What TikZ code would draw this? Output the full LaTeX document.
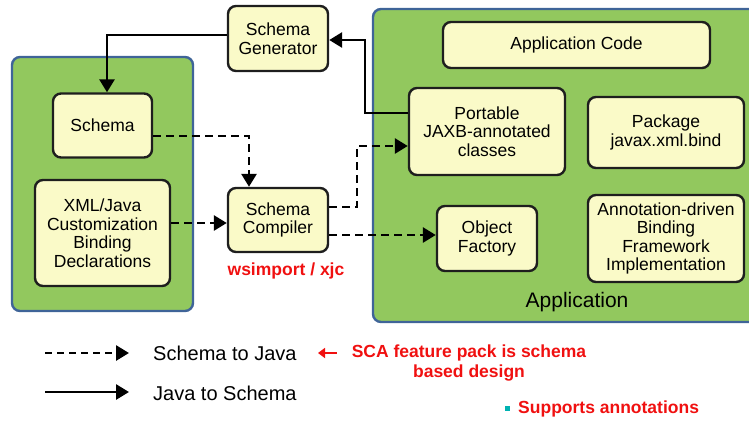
\documentclass[tikz,border=0pt]{standalone}
\usepackage{fontspec}
\setmainfont{Liberation Sans}
\usetikzlibrary{arrows.meta}
\definecolor{panelgreen}{HTML}{92C85E}
\definecolor{panelblue}{HTML}{3F6498}
\definecolor{boxfill}{HTML}{FAFAC8}
\definecolor{boxline}{HTML}{1E1E1E}
\definecolor{notered}{HTML}{F01010}
\tikzset{
  panel/.style={fill=panelgreen, draw=panelblue, line width=2.4pt, rounded corners=8pt},
  unit/.style={fill=boxfill, draw=boxline, line width=2.4pt, rounded corners=8pt,
    align=center, inner sep=0pt,
    font=\fontsize{17.5}{18.5}\selectfont},
  solidflow/.style={line width=2.8pt, -{Triangle[length=13pt,width=15pt]}},
  dashflow/.style={line width=2.8pt, dash pattern=on 8pt off 5pt, -{Triangle[length=13pt,width=15pt]}},
  legendtext/.style={anchor=west, inner sep=0pt, font=\fontsize{20}{22}\selectfont},
  note/.style={text=notered, font=\bfseries\fontsize{17.5}{20}\selectfont, inner sep=0pt, align=center},
}
\begin{document}
\begin{tikzpicture}[x=1pt, y=-1pt]
\useasboundingbox (0,0) rectangle (749,421);

% container panels
\draw[panel] (12,57) rectangle (193,311);
\draw[panel] (373,9) rectangle (762,322);
\node[anchor=center, inner sep=0pt, font=\fontsize{21}{24}\selectfont] (applabel) at (577,302) {Application};

% boxes
\node[unit, minimum width=100pt, minimum height=65pt] (gen) at (278,38.5) {Schema\\Generator};
\node[unit, minimum width=99pt, minimum height=64pt] (schema) at (102.5,125.5) {Schema};
\node[unit, minimum width=135pt, minimum height=106pt] (xml) at (102.5,233) {XML/Java\\Customization\\Binding\\Declarations};
\node[unit, minimum width=100pt, minimum height=64pt] (comp) at (278,220) {Schema\\Compiler};
\node[unit, minimum width=267pt, minimum height=46pt] (appcode) at (576.5,45) {Application Code};
\node[unit, minimum width=156pt, minimum height=87pt] (jaxb) at (487,131.5) {Portable\\JAXB-annotated\\classes};
\node[unit, minimum width=156pt, minimum height=71pt] (pkg) at (666,132.5) {Package\\javax.xml.bind};
\node[unit, minimum width=100pt, minimum height=65pt] (factory) at (487,238.5) {Object\\Factory};
\node[unit, minimum width=156pt, minimum height=87pt] (annot) at (666,238.5) {Annotation-driven\\Binding\\Framework\\Implementation};

\node[note] (tool) at (286,271) {wsimport / xjc};

% Java to Schema flow
\draw[solidflow] (jaxb.west |- 0,113) -- (365,113) -- (365,40) -- (gen.east |- 0,40);
\draw[solidflow] (gen.west |- 0,35) -- (107,35) -- (schema.north -| 107,0);

% Schema to Java flow
\draw[dashflow] (schema.east |- 0,136) -- (249,136) -- (comp.north -| 249,0);
\draw[dashflow] (xml.east |- 0,223) -- (comp.west |- 0,223);
\draw[dashflow] (comp.east |- 0,207) -- (357,207) -- (357,146) -- (jaxb.west |- 0,146);
\draw[dashflow] (comp.east |- 0,235) -- (factory.west |- 0,235);

% legend
\coordinate (d0) at (45,353);
\coordinate (d1) at (129,353);
\coordinate (s0) at (45,392);
\coordinate (s1) at (129,392);
\draw[dashflow, dash pattern=on 7pt off 5pt] (d0) -- (d1);
\draw[solidflow] (s0) -- (s1);
\node[legendtext] (l1) at (153,353) {Schema to Java};
\node[legendtext] (l2) at (153,393) {Java to Schema};

% notes
\node[note] (sca) at (469,363) {SCA feature pack is schema\\based design};
\draw[notered, line width=2.6pt, -{Triangle[length=7pt,width=10pt]}] (sca.west |- 0,353) ++(-15,0) coordinate (ra) -- (318,353);
\fill[fill=teal!60!cyan] (505,406) rectangle (510,411);
\node[note, anchor=west] (ann) at (518,409) {Supports annotations};
\end{tikzpicture}
\end{document}
